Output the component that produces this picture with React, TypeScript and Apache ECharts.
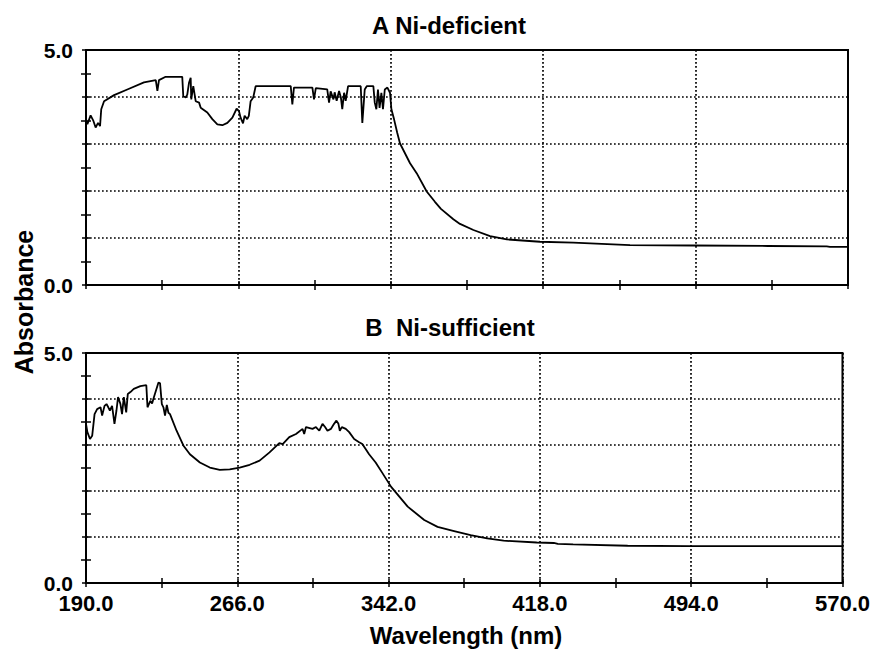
import React, { useEffect, useRef } from "react";
import * as echarts from "echarts";

// Panel A: Ni-deficient
const wavelengthA = [
  190, 190.7, 192.3, 193.7, 194.8, 196, 197, 197.6, 199, 204, 210.6, 218.9, 224.8, 225.6, 226.4,
  229.7, 238, 238.5, 239.7, 240.5, 241.4, 242.2, 242.5, 243.5, 244.7, 246.4, 247.2, 250.5, 253,
  255.5, 258, 260.5, 263, 265.1, 266.3, 267.1, 268.3, 269.1, 270.4, 271.2, 272.1, 273.4, 274.6,
  292.1, 292.9, 293.7, 302.9, 303.7, 304.6, 310.3, 311.2, 312.0, 313.4, 314.0, 315.0, 316.2,
  317.1, 317.8, 318.7, 319.5, 320.7, 327.0, 327.8, 329.0, 330.0, 333.3, 334.0, 334.8, 335.6,
  336.4, 337.3, 338.1, 339.0, 340.3, 341.6, 342.3, 343.6, 345.2, 346.6, 351.6, 354.9, 359.9,
  364, 367, 373.2, 376.5, 383.2, 391.5, 399.8, 416.4, 433, 461.3, 492.9, 530, 559.4, 561, 570,
];
const absorbA = [
  3.53, 3.42, 3.61, 3.49, 3.35, 3.45, 3.38, 3.74, 3.91, 4.04, 4.16, 4.31, 4.36, 4.13, 4.36,
  4.43, 4.43, 4.02, 3.99, 4.05, 4.31, 4.41, 3.95, 4.23, 3.91, 3.88, 3.77, 3.67, 3.53,
  3.42, 3.40, 3.45, 3.56, 3.75, 3.70, 3.56, 3.44, 3.60, 3.53, 3.60, 3.91, 3.99, 4.23,
  4.23, 3.84, 4.20, 4.20, 3.95, 4.19, 4.16, 3.88, 4.12, 3.95, 4.10, 3.92, 4.13,
  3.99, 3.74, 4.09, 3.92, 4.23, 4.23, 3.45, 4.16, 4.23, 4.23, 3.88, 3.74, 4.16,
  3.77, 4.09, 3.74, 4.16, 4.20, 4.09, 3.74, 3.53, 3.24, 3.01, 2.59, 2.38, 1.99,
  1.77, 1.62, 1.40, 1.30, 1.17, 1.04, 0.97, 0.92, 0.90, 0.85, 0.84, 0.83, 0.82, 0.81, 0.81,
];

// Panel B: Ni-sufficient
const wavelengthB = [
  190, 190.7, 192, 193.1, 194.3, 195.6, 197.3, 198.1, 199.3, 200.3, 201.2, 202, 203.1, 204.3,
  205.3, 206.1, 207.3, 208.1, 209, 210.2, 211, 212.3, 214, 217.3, 220.3, 220.9, 222.3, 223.2,
  224.1, 226.4, 227.2, 228.1, 228.9, 229.7, 230.6, 231.4, 232.2, 235.5, 238.9, 242.2, 247.2,
  252.2, 257.2, 262.2, 267.2, 272.2, 277.2, 282.2, 287.1, 288.8, 292.1, 295.5, 298.8, 299.6,
  300.5, 303.8, 305.5, 307.2, 308.8, 310.1, 311.3, 313, 314.6, 315.8, 316.8, 317.5, 318.5,
  320.5, 322.2, 324.7, 327.2, 328.8, 332.2, 335.5, 338.6, 343.3, 351.6, 359.9, 366.6, 374.9,
  383.2, 391.5, 399.8, 416.4, 425, 427, 434.7, 462.1, 493, 570,
];
const absorbB = [
  3.46, 3.28, 3.13, 3.20, 3.67, 3.78, 3.82, 3.64, 3.85, 3.89, 3.82, 3.75, 3.85, 3.46,
  3.75, 4.04, 3.89, 3.67, 4.04, 3.71, 4.11, 4.15, 4.22, 4.28, 4.30, 3.82, 3.96, 3.90,
  4.04, 4.36, 4.34, 3.89, 3.82, 3.64, 3.87, 3.70, 3.67, 3.31, 2.99, 2.80, 2.62,
  2.51, 2.46, 2.47, 2.51, 2.57, 2.66, 2.84, 3.04, 3.02, 3.17, 3.24, 3.35, 3.24,
  3.39, 3.35, 3.39, 3.31, 3.46, 3.39, 3.31, 3.35, 3.46, 3.53, 3.46, 3.31, 3.39,
  3.35, 3.28, 3.13, 3.06, 3.02, 2.80, 2.62, 2.41, 2.09, 1.66, 1.37, 1.22, 1.13,
  1.04, 0.97, 0.92, 0.88, 0.87, 0.85, 0.84, 0.81, 0.80, 0.80,
];

const xStart = 190;
const xEnd = 570;
const xStep = 76;
const xTickLabels = ["190.0", "266.0", "342.0", "418.0", "494.0", "570.0"];
const yTickLabels = ["0.0", "", "", "", "", "5.0"];
const titles = ["A Ni-deficient", "B  Ni-sufficient"];

const FONT = "'Liberation Sans', Arial, Helvetica, sans-serif";

export default function App() {
  const ref = useRef<HTMLDivElement>(null);

  useEffect(() => {
    if (!ref.current) return;
    const chart = echarts.init(ref.current, null, { renderer: "svg" });

    const grids = [
      { left: 86, top: 50, width: 762, height: 235 },
      { left: 86, top: 353, width: 762, height: 230 },
    ];

    const dotted = { color: "#000", width: 1.7, type: [1.7, 2.3] as any };

    const xAxes: any[] = [];
    const yAxes: any[] = [];
    grids.forEach((_, gi) => {
      const baseX = {
        type: "value",
        gridIndex: gi,
        min: 0,
        max: xEnd - xStart,
        interval: xStep,
        axisLine: { show: false },
        axisTick: { show: true, inside: true, length: 4, lineStyle: { color: "#000", width: 1.5 } },
        minorTick: { show: true, splitNumber: 2, length: 5, lineStyle: { color: "#000", width: 1.5 } },
        minorSplitLine: { show: false },
      };
      xAxes.push({
        ...baseX,
        position: "bottom",
        splitLine: { show: true, lineStyle: dotted },
        axisLabel: {
          show: gi === 1,
          margin: 9,
          color: "#000",
          fontFamily: FONT,
          fontWeight: "bold",
          fontSize: 22,
          formatter: (v: number) => xTickLabels[Math.round(v / xStep)] ?? "",
        },
      });
      xAxes.push({
        ...baseX,
        position: "top",
        splitLine: { show: false },
        axisLabel: { show: false },
      });
      const baseY = {
        type: "value",
        gridIndex: gi,
        min: 0,
        max: 5,
        interval: 1,
        axisLine: { show: false },
        axisTick: { show: true, inside: true, length: 4, lineStyle: { color: "#000", width: 1.5 } },
        minorTick: { show: true, splitNumber: 2, length: 5, lineStyle: { color: "#000", width: 1.5 } },
        minorSplitLine: { show: false },
      };
      yAxes.push({
        ...baseY,
        position: "left",
        splitLine: { show: true, lineStyle: dotted },
        axisLabel: {
          show: true,
          margin: 13,
          color: "#000",
          fontFamily: FONT,
          fontWeight: "bold",
          fontSize: 21,
          formatter: (v: number) => yTickLabels[Math.round(v)] ?? "",
        },
      });
      yAxes.push({
        ...baseY,
        position: "right",
        splitLine: { show: false },
        axisLabel: { show: false },
      });
    });

    const toData = (xs: number[], ys: number[]) => xs.map((x, i) => [x - xStart, ys[i]]);

    const lineStyle = { color: "#000", width: 1.8 };

    chart.setOption({
      animation: false,
      backgroundColor: "#fff",
      grid: grids.map((g) => ({
        ...g,
        show: true,
        borderColor: "#000",
        borderWidth: 2,
        backgroundColor: "transparent",
        containLabel: false,
      })),
      xAxis: xAxes,
      yAxis: yAxes,
      series: [
        {
          type: "line",
          xAxisIndex: 0,
          yAxisIndex: 0,
          data: toData(wavelengthA, absorbA),
          showSymbol: false,
          symbol: "none",
          lineStyle,
          z: 5,
        },
        {
          type: "line",
          xAxisIndex: 2,
          yAxisIndex: 2,
          data: toData(wavelengthB, absorbB),
          showSymbol: false,
          symbol: "none",
          lineStyle,
          z: 5,
        },
      ],
      graphic: [
        {
          type: "text",
          x: 449,
          y: 25,
          style: {
            text: titles[0],
            fill: "#000",
            font: `bold 24px ${FONT}`,
            textAlign: "center",
            textVerticalAlign: "middle",
          },
        },
        {
          type: "text",
          x: 450,
          y: 327,
          style: {
            text: titles[1],
            fill: "#000",
            font: `bold 24px ${FONT}`,
            textAlign: "center",
            textVerticalAlign: "middle",
          },
        },
        {
          type: "text",
          x: 24,
          y: 302,
          rotation: Math.PI / 2,
          style: {
            text: "Absorbance",
            fill: "#000",
            font: `bold 25px ${FONT}`,
            textAlign: "center",
            textVerticalAlign: "middle",
          },
        },
        {
          type: "text",
          x: 466,
          y: 635,
          style: {
            text: "Wavelength (nm)",
            fill: "#000",
            font: `bold 24px ${FONT}`,
            textAlign: "center",
            textVerticalAlign: "middle",
          },
        },
      ],
    });

    return () => chart.dispose();
  }, []);

  return (
    <div
      ref={ref}
      style={{ position: "fixed", left: 0, top: 0, width: 873, height: 649, background: "#fff" }}
    />
  );
}
